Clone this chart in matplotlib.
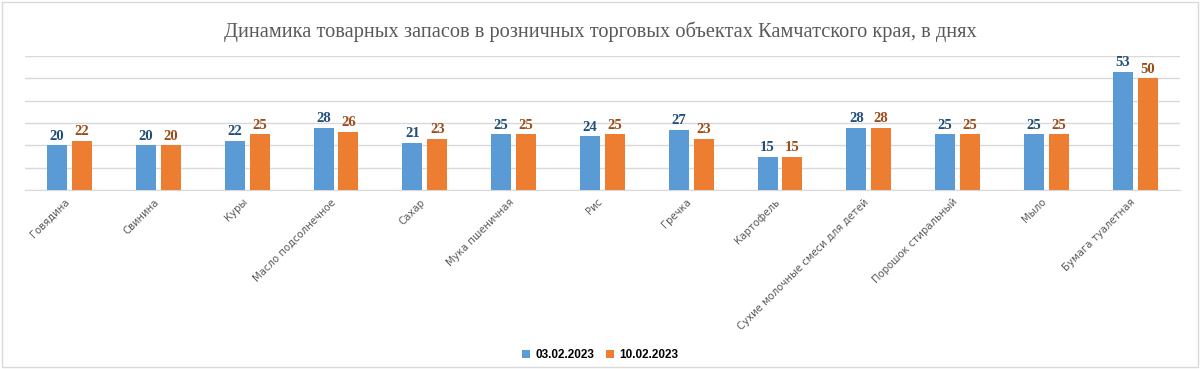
import matplotlib.pyplot as plt
import matplotlib.transforms as mtransforms
import numpy as np

# data
categories = ['Говядина', 'Свинина', 'Куры', 'Масло подсолнечное', 'Сахар',
              'Мука пшеничная', 'Рис', 'Гречка', 'Картофель',
              'Сухие молочные смеси для детей', 'Порошок стиральный', 'Мыло',
              'Бумага туалетная']
days_0302 = [20, 20, 22, 28, 21, 25, 24, 27, 15, 28, 25, 25, 53]
days_1002 = [22, 20, 25, 26, 23, 25, 25, 23, 15, 28, 25, 25, 50]
series_names = ['03.02.2023', '10.02.2023']

fig = plt.figure(figsize=(12, 3.69), dpi=100)
ax = fig.add_axes([0.021, 0.485, 0.962, 0.363])

x = np.arange(len(categories))
w = 0.225
b1 = ax.bar(x - 0.14, days_0302, w, color='#5B9BD5', label=series_names[0], zorder=3)
b2 = ax.bar(x + 0.14, days_1002, w, color='#ED7D31', label=series_names[1], zorder=3)

# value labels
for bars, col in [(b1, '#1F4E79'), (b2, '#9C4A17')]:
    for r in bars:
        ax.text(r.get_x() + r.get_width() / 2, r.get_height() + 1.2, str(int(r.get_height())),
                ha='center', va='bottom', fontsize=10.5, fontweight='bold',
                family='Liberation Serif', color=col)

ax.set_xlim(-0.5, len(categories) - 0.5)
ax.set_ylim(0, 60)
ax.set_yticks(np.arange(0, 61, 10))
ax.yaxis.grid(True, color='#D9D9D9', linewidth=1, zorder=0)
ax.tick_params(axis='y', left=False, labelleft=False)
ax.tick_params(axis='x', length=0, pad=5)
for s in ['top', 'right', 'left']:
    ax.spines[s].set_visible(False)
ax.spines['bottom'].set_color('#D9D9D9')

ax.set_xticks(x)
ax.set_xticklabels(categories, rotation=45, ha='right', rotation_mode='anchor',
                   fontsize=7.3, color='#595959')
# shift tick labels slightly to the left
shift = mtransforms.ScaledTranslation(-5 / 100, 0, fig.dpi_scale_trans)
for lbl in ax.get_xticklabels():
    lbl.set_transform(lbl.get_transform() + shift)

fig.text(0.5, 1 - 32 / 369, 'Динамика товарных запасов в розничных торговых объектах Камчатского края, в днях',
         ha='center', va='center', fontsize=14.7, family='Liberation Serif', color='#595959')

fig.legend(loc='center', bbox_to_anchor=(0.5, 1 - 355 / 369), ncol=2, frameon=False,
           prop={'weight': 'bold', 'size': 8.5, 'family': 'Liberation Sans'},
           handlelength=0.7, handleheight=0.7, handletextpad=0.4, columnspacing=1.0)

# outer frame
fig.patches.append(plt.Rectangle((0.002, 0.005), 0.996, 0.99, transform=fig.transFigure,
                                 fill=False, edgecolor='#D9D9D9', linewidth=1))

fig.savefig('out.png', dpi=100)
